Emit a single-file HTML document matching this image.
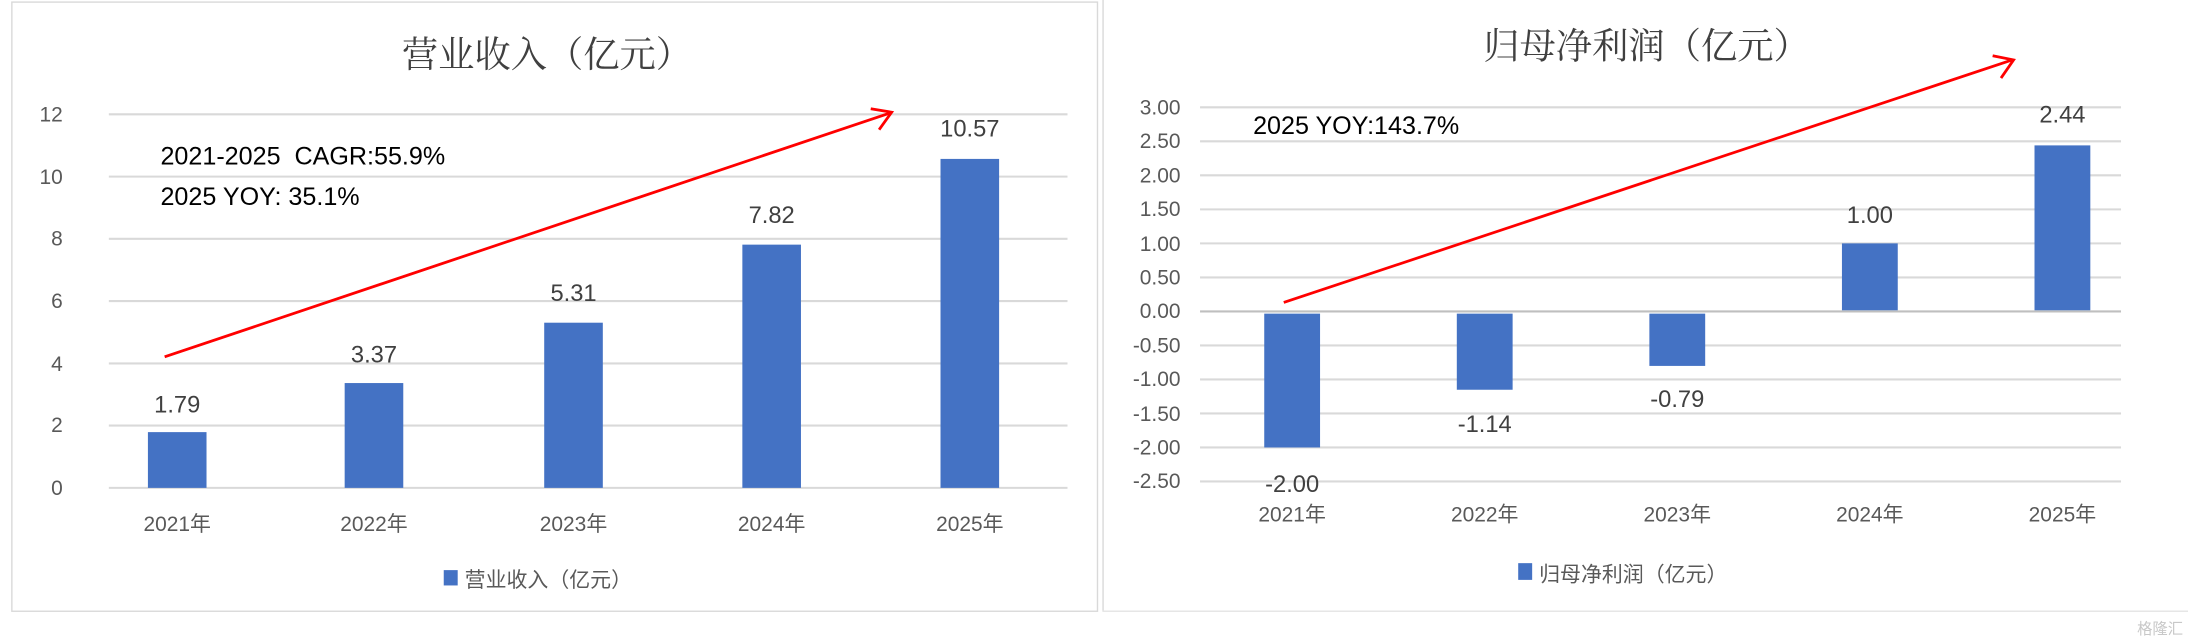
<!DOCTYPE html>
<html><head><meta charset="utf-8"><style>
html,body{margin:0;padding:0;background:#fff;width:2188px;height:644px;overflow:hidden}
svg{display:block}
text{font-family:"Liberation Sans","Noto Sans CJK SC",sans-serif}
text.ser{font-family:"Liberation Serif","Noto Serif CJK SC",serif}
</style></head><body>
<svg width="2188" height="644" viewBox="0 0 1568 462" preserveAspectRatio="none" xmlns="http://www.w3.org/2000/svg">
<rect x="0" y="0" width="1568" height="462" fill="#fff"/>
<rect x="8.5" y="1.5" width="778" height="437" fill="none" stroke="#d9d9d9" stroke-width="1"/>
<line x1="790.5" y1="0" x2="790.5" y2="438" stroke="#d9d9d9"/>
<line x1="790" y1="438.5" x2="1568" y2="438.5" stroke="#e6e6e6"/>
<!-- LEFT CHART -->
<text class="ser" x="392" y="48" font-size="26" text-anchor="middle" fill="#404040" style="font-family:'Noto Serif CJK SC',serif">营业收入（亿元）</text>
<g stroke="#d9d9d9" stroke-width="1.5">
<line x1="78" x2="765" y1="82" y2="82"/><line x1="78" x2="765" y1="126.7" y2="126.7"/>
<line x1="78" x2="765" y1="171.3" y2="171.3"/><line x1="78" x2="765" y1="216" y2="216"/>
<line x1="78" x2="765" y1="260.7" y2="260.7"/><line x1="78" x2="765" y1="305.3" y2="305.3"/>
<line x1="78" x2="765" y1="350" y2="350"/></g>
<g font-size="15" fill="#595959" text-anchor="end">
<text x="45" y="87">12</text><text x="45" y="132">10</text><text x="45" y="176">8</text>
<text x="45" y="221">6</text><text x="45" y="266">4</text><text x="45" y="310">2</text><text x="45" y="355">0</text></g>
<g fill="#4472c4">
<rect x="106" y="310" width="42" height="40"/>
<rect x="247" y="274.8" width="42" height="75.2"/>
<rect x="390" y="231.5" width="42" height="118.5"/>
<rect x="532" y="175.5" width="42" height="174.5"/>
<rect x="674" y="114" width="42" height="236"/></g>
<g font-size="17" fill="#404040" text-anchor="middle">
<text x="127" y="296">1.79</text><text x="268" y="260">3.37</text><text x="411" y="216">5.31</text>
<text x="553" y="160">7.82</text><text x="695" y="98">10.57</text></g>
<g font-size="15" fill="#595959" text-anchor="middle">
<text x="127" y="381">2021年</text><text x="268" y="381">2022年</text><text x="411" y="381">2023年</text>
<text x="553" y="381">2024年</text><text x="695" y="381">2025年</text></g>
<rect x="318" y="409" width="10" height="11" fill="#4472c4"/>
<text x="333" y="421" font-size="15" fill="#595959">营业收入（亿元）</text>
<text x="115" y="118" font-size="18" fill="#000" xml:space="preserve">2021-2025  CAGR:55.9%</text>
<text x="115" y="147" font-size="18" fill="#000">2025 YOY: 35.1%</text>
<line x1="118" y1="256" x2="638" y2="81" stroke="#ff0000" stroke-width="2"/>
<polyline points="624,78 639,80.5 630,93" fill="none" stroke="#ff0000" stroke-width="2"/>
<!-- RIGHT CHART -->
<text class="ser" x="1180" y="42" font-size="26" text-anchor="middle" fill="#404040" style="font-family:'Noto Serif CJK SC',serif">归母净利润（亿元）</text>
<g stroke="#d9d9d9" stroke-width="1.5">
<line x1="860" x2="1520" y1="77" y2="77"/><line x1="860" x2="1520" y1="101.4" y2="101.4"/>
<line x1="860" x2="1520" y1="125.8" y2="125.8"/><line x1="860" x2="1520" y1="150.2" y2="150.2"/>
<line x1="860" x2="1520" y1="174.6" y2="174.6"/><line x1="860" x2="1520" y1="199" y2="199"/>
<line x1="860" x2="1520" y1="223.4" y2="223.4" stroke="#bfbfbf"/><line x1="860" x2="1520" y1="247.8" y2="247.8"/>
<line x1="860" x2="1520" y1="272.2" y2="272.2"/><line x1="860" x2="1520" y1="296.6" y2="296.6"/>
<line x1="860" x2="1520" y1="321" y2="321"/><line x1="860" x2="1520" y1="345.4" y2="345.4"/></g>
<g font-size="15" fill="#595959" text-anchor="end">
<text x="846" y="82">3.00</text><text x="846" y="106">2.50</text><text x="846" y="131">2.00</text>
<text x="846" y="155">1.50</text><text x="846" y="180">1.00</text><text x="846" y="204">0.50</text>
<text x="846" y="228">0.00</text><text x="846" y="253">-0.50</text><text x="846" y="277">-1.00</text>
<text x="846" y="302">-1.50</text><text x="846" y="326">-2.00</text><text x="846" y="350">-2.50</text></g>
<g fill="#4472c4">
<rect x="906" y="225" width="40" height="96"/>
<rect x="1044" y="225" width="40" height="54.6"/>
<rect x="1182" y="225" width="40" height="37.5"/>
<rect x="1320" y="174.6" width="40" height="48"/>
<rect x="1458" y="104.3" width="40" height="118.3"/></g>
<g font-size="17" fill="#404040" text-anchor="middle">
<text x="926" y="353">-2.00</text><text x="1064" y="310">-1.14</text><text x="1202" y="292">-0.79</text>
<text x="1340" y="160">1.00</text><text x="1478" y="88">2.44</text></g>
<g font-size="15" fill="#595959" text-anchor="middle">
<text x="926" y="374">2021年</text><text x="1064" y="374">2022年</text><text x="1202" y="374">2023年</text>
<text x="1340" y="374">2024年</text><text x="1478" y="374">2025年</text></g>
<rect x="1088" y="404" width="10" height="12" fill="#4472c4"/>
<text x="1103" y="417" font-size="15" fill="#595959">归母净利润（亿元）</text>
<text x="898" y="96" font-size="18" fill="#000">2025 YOY:143.7%</text>
<line x1="920" y1="217" x2="1442" y2="43" stroke="#ff0000" stroke-width="2"/>
<polyline points="1428,40 1443,43 1434,56" fill="none" stroke="#ff0000" stroke-width="2"/>
<text x="1548" y="455" font-size="11" fill="#c8c8c8" text-anchor="middle">格隆汇</text>
</svg>
</body></html>
